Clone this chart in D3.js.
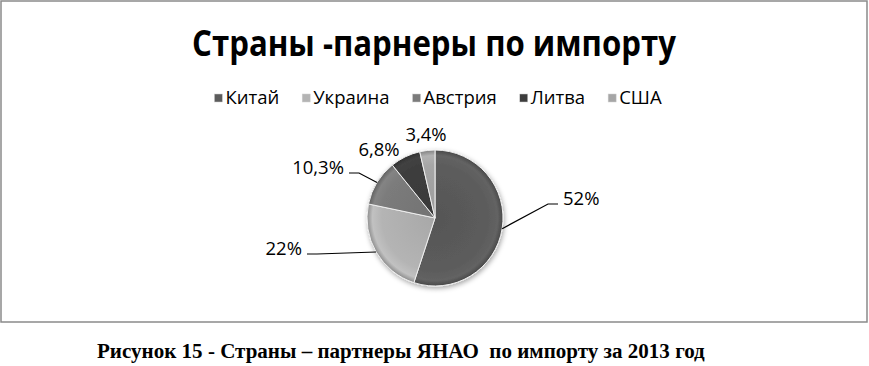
<!DOCTYPE html>
<html>
<head>
<meta charset="utf-8">
<script src="https://cdn.jsdelivr.net/npm/d3@7"></script>
<style>
  body { margin: 0; background: #fff; }
</style>
</head>
<body>
<svg id="chart"></svg>
<script>
// chart data
var countries = ["Китай", "Украина", "Австрия", "Литва", "США"];
var shares = [52, 22, 10.3, 6.8, 3.4];
var shareLabels = ["52%", "22%", "10,3%", "6,8%", "3,4%"];
var titleText = "Страны -парнеры по импорту";
var captionText = "Рисунок 15 - Страны – партнеры ЯНАО  по импорту за 2013 год";

var width = 869,
    height = 366,
    cx = 435,
    cy = 218,
    radius = 68;

// where each percentage label sits, relative to the pie centre
var labelSpots = [
  {dx: 123, dy: -14, anchor: "start", leader: true},
  {dx: -128, dy: 36, anchor: "end", leader: true},
  {dx: -86, dy: -45, anchor: "end", leader: true},
  {dx: -56, dy: -68, anchor: "middle", leader: false},
  {dx: -9, dy: -83, anchor: "middle", leader: false}
];

var color = d3.scaleOrdinal()
    .domain(countries)
    .range(["#5c5c5c", "#b4b4b4", "#7b7b7b", "#3d3d3d", "#a6a6a6"]);

var sans = "'Open Sans', 'DejaVu Sans', sans-serif";

// squeeze a text horizontally so it spans w pixels, keeping its height
function squeeze(text, w, ax) {
  var l = text.node().getComputedTextLength();
  var s = w / l;
  text.attr("transform", "translate(" + ax + ",0) scale(" + s + ",1) translate(" + (-ax) + ",0)");
}

var svg = d3.select("#chart")
    .attr("width", width)
    .attr("height", height);

// frame
svg.append("rect")
    .attr("x", 1)
    .attr("y", 1)
    .attr("width", 866)
    .attr("height", 321)
    .attr("fill", "#fff")
    .attr("stroke", "#8a8a8a")
    .attr("stroke-width", 1.5);

// title
var title = svg.append("text")
    .attr("x", 434)
    .attr("y", 56)
    .attr("text-anchor", "middle")
    .attr("font-family", sans)
    .attr("font-weight", "bold")
    .attr("font-size", 35)
    .attr("fill", "#000")
    .text(titleText);
squeeze(title, 484, 434);

// legend
var legend = svg.append("g")
    .attr("font-family", sans)
    .attr("font-size", 18.5);

var lx = 0;
countries.forEach(function(c, i) {
  var item = legend.append("g").attr("transform", "translate(" + lx + ",0)");
  item.append("rect")
      .attr("x", 0)
      .attr("y", -4)
      .attr("width", 8)
      .attr("height", 8)
      .attr("fill", color(c))
      .attr("stroke", "#d0d0d0")
      .attr("stroke-width", 0.5);
  var t = item.append("text")
      .attr("x", 11)
      .attr("y", 0)
      .attr("dy", "0.35em")
      .attr("fill", "#000")
      .text(c);
  lx += 11 + t.node().getComputedTextLength() + 23;
});
lx -= 23;
legend.attr("transform", "translate(" + (438 - lx / 2) + ",98)");

// pie
var defs = svg.append("defs");

var shadow = defs.append("filter")
    .attr("id", "shadow")
    .attr("x", "-20%").attr("y", "-20%")
    .attr("width", "140%").attr("height", "140%");
shadow.append("feDropShadow")
    .attr("dx", 1)
    .attr("dy", 2)
    .attr("stdDeviation", 2.5)
    .attr("flood-color", "#000")
    .attr("flood-opacity", 0.35);

countries.forEach(function(c, i) {
  var base = d3.color(color(c));
  var g = defs.append("radialGradient")
      .attr("id", "grad" + i)
      .attr("gradientUnits", "userSpaceOnUse")
      .attr("cx", 0).attr("cy", 0).attr("r", radius);
  g.append("stop").attr("offset", "0%").attr("stop-color", base.darker(0.2));
  g.append("stop").attr("offset", "78%").attr("stop-color", base);
  g.append("stop").attr("offset", "92%").attr("stop-color", base.brighter(0.2));
  g.append("stop").attr("offset", "100%").attr("stop-color", base.darker(0.7));
});

var pie = d3.pie()
    .sort(null)
    .value(function(d) { return d; });

var arc = d3.arc()
    .innerRadius(0)
    .outerRadius(radius);

var arcs = pie(shares);

var pieG = svg.append("g")
    .attr("transform", "translate(" + cx + "," + cy + ")");

pieG.append("g")
    .attr("filter", "url(#shadow)")
    .selectAll("path")
    .data(arcs)
    .enter().append("path")
    .attr("d", arc)
    .attr("fill", function(d, i) { return "url(#grad" + i + ")"; })
    .attr("stroke", "#eeeeee")
    .attr("stroke-width", 1)
    .attr("stroke-linejoin", "round");

// labels and leader lines
var labels = pieG.append("g")
    .attr("font-family", sans)
    .attr("font-size", 18.5)
    .attr("fill", "#000");

arcs.forEach(function(d, i) {
  var spot = labelSpots[i];
  var mid = (d.startAngle + d.endAngle) / 2;
  var ex = radius * Math.sin(mid),
      ey = -radius * Math.cos(mid);
  var tx = spot.dx, ty = spot.dy;
  if (spot.leader) {
    var side = spot.anchor === "start" ? -1 : 1;
    labels.append("polyline")
        .attr("points", [[ex, ey], [spot.dx + side * 10, spot.dy], [spot.dx, spot.dy]].join(" "))
        .attr("fill", "none")
        .attr("stroke", "#000")
        .attr("stroke-width", 1.2);
    tx = spot.dx - side * 5;
    ty = spot.dy - 5;
  }
  labels.append("text")
      .attr("x", tx)
      .attr("y", ty)
      .attr("dy", "0.35em")
      .attr("text-anchor", spot.anchor)
      .text(shareLabels[i]);
});

// caption under the frame
var caption = svg.append("text")
    .attr("x", 97)
    .attr("y", 358)
    .attr("font-family", "'Liberation Serif', 'DejaVu Serif', serif")
    .attr("font-weight", "bold")
    .attr("font-size", 21)
    .attr("fill", "#000")
    .style("white-space", "pre")
    .text(captionText);
squeeze(caption, 608, 97);
</script>
</body>
</html>
